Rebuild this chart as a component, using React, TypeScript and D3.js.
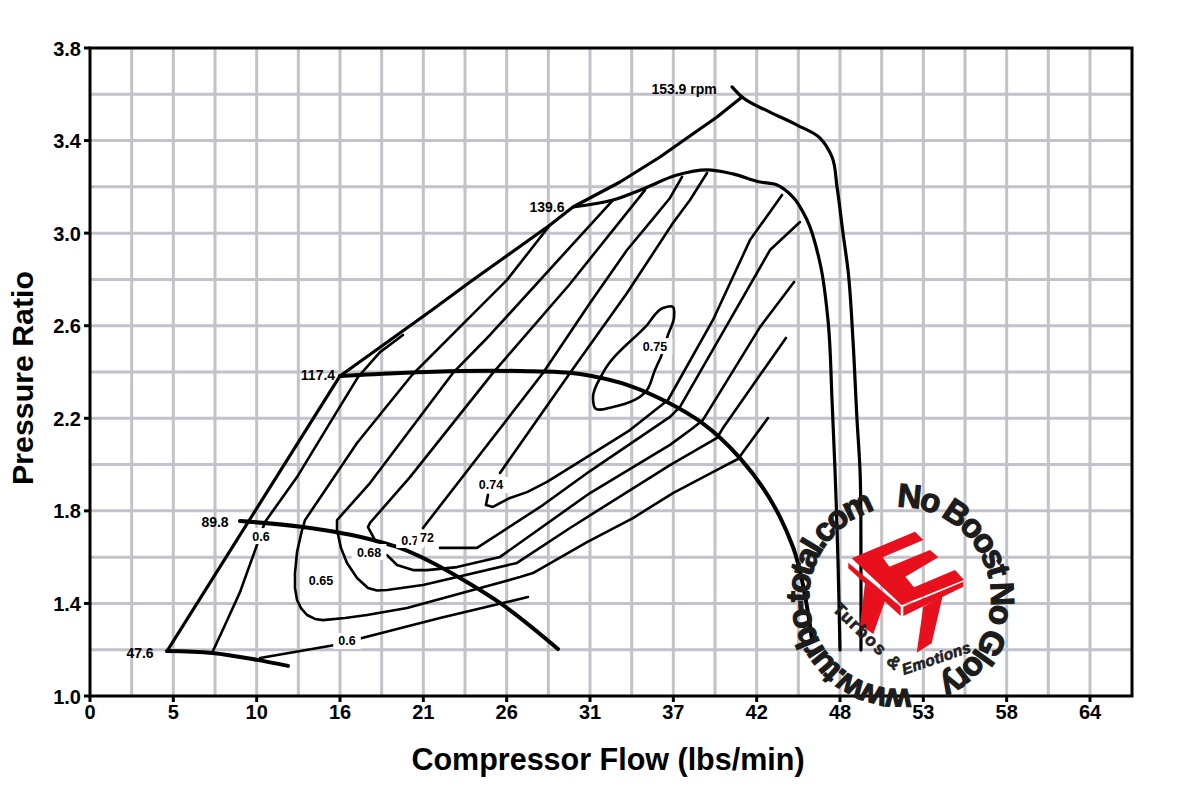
import React from "react";
import * as d3 from "d3";

type Pt = [number, number];

// Axis content
const xTickLabels = ["0", "5", "10", "16", "21", "26", "31", "37", "42", "48", "53", "58", "64"];
const yTickValues = [1.0, 1.4, 1.8, 2.2, 2.6, 3.0, 3.4, 3.8];
const xTitle = "Compressor Flow (lbs/min)";
const yTitle = "Pressure Ratio";

// Surge and speed lines (flow lbs/min, pressure ratio)
const surgeLine: Pt[] = [[4.93,1.194],[16,2.383],[21.89,2.668],[24.32,2.789],[29.44,3.035],[30.91,3.113],[33.92,3.221],[36.48,3.329],[38.21,3.411],[40.13,3.502],[41.73,3.588]];
const speed153: Pt[] = [[41.09,3.632],[41.73,3.588],[43.52,3.523],[45.25,3.467],[46.72,3.411],[47.49,3.329],[47.81,3.199],[48.19,3.001],[48.51,2.841],[48.83,2.538],[49.09,2.193],[49.28,1.977],[49.34,1.588],[49.34,1.199]];
const speed139: Pt[] = [[30.91,3.113],[33.47,3.143],[35.39,3.191],[37.57,3.251],[39.49,3.273],[41.15,3.256],[42.88,3.221],[43.97,3.208],[44.99,3.156],[45.89,3.057],[46.72,2.871],[47.23,2.625],[47.49,2.279],[47.68,1.977],[47.87,1.588],[48.0,1.199]];
const speed117: Pt[] = [[16,2.383],[19.84,2.396],[23.68,2.404],[27.52,2.404],[31.36,2.391],[34.69,2.337],[36.93,2.27],[39.17,2.18],[41.6,2.028],[44.16,1.773],[44.99,1.644],[46.21,1.242]];
const speed89: Pt[] = [[9.6,1.756],[13.63,1.73],[18.11,1.674],[19.65,1.644],[21.95,1.575],[23.68,1.51],[26.24,1.402],[29.95,1.203]];
const speed47: Pt[] = [[4.93,1.194],[7.81,1.186],[10.69,1.156],[12.67,1.13]];

// Efficiency contours
const eff60Left: Pt[] = [[7.81,1.186],[8.64,1.307],[9.6,1.449],[10.62,1.64],[11.2,1.752],[13.25,1.946],[15.36,2.18],[17.15,2.378],[18.56,2.486],[20.03,2.56]];
const eff60Bottom: Pt[] = [[10.88,1.164],[15.68,1.22],[17.41,1.251],[22.4,1.337],[26.69,1.406],[28.03,1.428]];
const eff65: Pt[] = [[43.39,2.201],[41.47,2.024],[40.13,1.977],[37.31,1.877],[34.75,1.769],[31.81,1.665],[28.35,1.531],[27.52,1.514],[24.51,1.458],[20.29,1.38],[17.73,1.35],[16.32,1.337],[14.91,1.328],[14.4,1.333],[13.89,1.35],[13.5,1.38],[13.25,1.415],[13.12,1.467],[13.12,1.531],[13.25,1.622],[13.57,1.717],[13.76,1.76],[17.09,2.093],[20.61,2.387],[24.32,2.638],[26.69,2.798],[29.44,3.035]];
const eff68: Pt[] = [[44.54,2.547],[40.51,2.158],[40.13,2.115],[37.12,1.998],[30.72,1.726],[27.33,1.575],[21.31,1.48],[19.01,1.458],[18.37,1.456],[17.79,1.467],[17.09,1.51],[16.45,1.575],[16.06,1.64],[15.81,1.717],[15.81,1.76],[17.92,1.92],[20.48,2.149],[23.23,2.396],[25.6,2.56],[33.47,3.143]];
const eff70Lower: Pt[] = [[45.06,2.789],[42.88,2.594],[39.23,2.193],[38.59,2.158],[37.12,2.085],[32.0,1.877],[26.24,1.601],[23.49,1.557],[21.57,1.544],[20.67,1.544],[19.65,1.566],[19.01,1.609]];
const eff70Upper: Pt[] = [[18.24,1.674],[17.79,1.73],[17.92,1.748],[20.48,1.946],[25.79,2.396],[30.66,2.776],[35.52,3.186]];
const eff72Left: Pt[] = [[21.31,1.726],[28.99,2.396],[32.0,2.698],[34.37,2.927],[35.97,3.057],[37.12,3.152],[37.89,3.243]];
const eff72Right: Pt[] = [[22.4,1.64],[24.77,1.64],[28.99,1.825],[32.0,1.972],[37.12,2.206],[37.76,2.249],[40.96,2.625],[43.52,2.927],[45.44,3.048]];
const eff74Lower: Pt[] = [[25.47,1.869],[25.34,1.825],[25.79,1.817],[26.88,1.856],[27.97,1.881],[29.25,1.925],[32.0,2.041],[34.56,2.149],[36.99,2.279],[39.87,2.625],[42.24,2.97],[44.29,3.165]];
const eff74Upper: Pt[] = [[26.24,1.964],[30.72,2.396],[34.37,2.741],[37.31,3.044],[38.4,3.143],[39.49,3.26]];
const eff75: Pt[] = [[36.54,2.465],[36.99,2.56],[37.38,2.638],[37.31,2.681],[36.67,2.677],[35.65,2.603],[32.83,2.396],[32.19,2.288],[32.32,2.244],[33.47,2.249],[35.65,2.322],[36.16,2.409],[36.54,2.465]];

const thickLines = [speed117, speed89, speed47];
const mediumLines = [speed153, speed139];
const thinLines = [eff60Left, eff60Bottom, eff65, eff68, eff70Lower, eff70Upper, eff72Left, eff72Right, eff74Lower, eff74Upper];

// Labels
const effLabels: [string, number, number][] = [["0.6",10.94,1.691],["0.6",16.45,1.238],["0.65",14.78,1.501],["0.68",17.86,1.622],["0.7",20.48,1.674],["72",21.57,1.683],["0.74",25.66,1.912],["0.75",36.16,2.512]];
const speedLabels: [string, number, number][] = [["47.6",3.2,1.186],["89.8",8.0,1.752],["117.4",14.59,2.387],["139.6",29.25,3.113],["153.9 rpm",38.02,3.623]];

const W = 1200, H = 800;
const margin = { left: 90, right: 1132, top: 48, bottom: 696 };
const x = d3.scaleLinear().domain([0, 66.688]).range([margin.left, margin.right]);
const y = d3.scaleLinear().domain([1, 3.8]).range([margin.bottom, margin.top]);
const line = d3.line<Pt>().x(d => x(d[0])).y(d => y(d[1])).curve(d3.curveCatmullRom.alpha(1));
const straight = d3.line<Pt>().x(d => x(d[0])).y(d => y(d[1]));
const xStep = 16 / 3;
const xGrid = d3.range(1, 25).map(i => (i * xStep) / 2);
const yGrid = d3.range(1, 14).map(i => 1 + i * 0.2);
const FONT = "'Liberation Sans', Arial, sans-serif";
const NARROW = "'Liberation Sans Narrow', 'Liberation Sans', sans-serif";

const cx = 900, cy = 598, r = 91;
function arc(a0: number, a1: number) {
  const p = (a: number) => {
    const t = (a * Math.PI) / 180;
    return `${cx + r * Math.sin(t)} ${cy - r * Math.cos(t)}`;
  };
  const big = a1 - a0 > 180 ? 1 : 0;
  return `M ${p(a0)} A ${r} ${r} 0 ${big} 1 ${p(a1)}`;
}

export default function App() {
  return (
    <svg width={W} height={H} viewBox={`0 0 ${W} ${H}`} style={{ position: "absolute", left: 0, top: 0, background: "#fff" }}>
      <defs>
        <path id="wmA" d={arc(173, 345)} />
        <path id="wmB" d={arc(-2, 156)} />
      </defs>
      <g stroke="#c2c2ca" strokeWidth={3}>
        {xGrid.map((v, i) => <line key={i} x1={x(v)} x2={x(v)} y1={margin.top} y2={margin.bottom} />)}
        {yGrid.map((v, i) => <line key={i} x1={margin.left} x2={margin.right} y1={y(v)} y2={y(v)} />)}
      </g>
      <g fill="none" stroke="#000" strokeLinejoin="round" strokeLinecap="round">
        {thinLines.map((d, i) => <path key={i} d={straight(d)!} strokeWidth={2.6} />)}
        <path d={line(eff75)!} strokeWidth={2.6} />
        <path d={straight(surgeLine)!} strokeWidth={3.2} />
        {mediumLines.map((d, i) => <path key={i} d={line(d)!} strokeWidth={3.2} />)}
        {thickLines.map((d, i) => <path key={i} d={line(d)!} strokeWidth={4} />)}
      </g>
      <g fontFamily={FONT} fontWeight="bold" fontSize={12.5} textAnchor="middle">
        {effLabels.map(([t, a, b], i) => (
          <g key={i}>
            <rect x={x(a) - (t.length * 3.6 + 3)} y={y(b) - 8} width={t.length * 7.2 + 6} height={16} fill="#fff" />
            <text x={x(a)} y={y(b) + 4.5}>{t}</text>
          </g>
        ))}
      </g>
      <g fontFamily={FONT} fontWeight="bold" fontSize={14} textAnchor="middle">
        {speedLabels.map(([t, a, b], i) => <text key={i} x={x(a)} y={y(b) + 5}>{t}</text>)}
      </g>
      <path d={`M ${margin.left} ${margin.top} H ${margin.right} V ${margin.bottom} H ${margin.left} Z`} fill="none" stroke="#000" strokeWidth={3} />
      <g stroke="#000" strokeWidth={3}>
        {xTickLabels.map((_, i) => <line key={i} x1={x(i * xStep)} x2={x(i * xStep)} y1={margin.bottom} y2={margin.bottom + 6} />)}
        {yTickValues.map((v, i) => <line key={i} x1={margin.left - 6} x2={margin.left} y1={y(v)} y2={y(v)} />)}
      </g>
      <g fontFamily={FONT} fontWeight="bold" fontSize={20} fill="#000">
        {xTickLabels.map((t, i) => <text key={i} x={x(i * xStep)} y={718.5} textAnchor="middle">{t}</text>)}
        {yTickValues.map((v, i) => <text key={i} x={81} y={y(v) + 7.5} textAnchor="end">{v.toFixed(1)}</text>)}
      </g>
      <text x={608} y={770} textAnchor="middle" fontFamily={FONT} fontWeight="bold" fontSize={30.5}>{xTitle}</text>
      <text transform="translate(33,378) rotate(-90)" textAnchor="middle" fontFamily={FONT} fontWeight="bold" fontSize={30.3}>{yTitle}</text>

      {/* Watermark logo */}
      <g transform="translate(760,470) scale(0.33333)">
        <polygon fill="#e8101c" points="315,340 375,392 340,492 300,465" />
        <polygon fill="#e8101c" points="490,410 548,378 515,520 470,548" />
        <polygon fill="#e8101c" points="275,265 465,185 490,210 368,262 388,290 510,240 535,262 436,320 462,352 585,300 612,330 425,405" />
        <polygon fill="#e8101c" points="265,278 422,410 422,438 265,295" />
        <polygon fill="#e8101c" points="430,410 610,335 610,350 430,438" />
        <g fontFamily={FONT} fontWeight="bold" fill="#222" stroke="#222" strokeWidth={2}>
          <text fontSize={52} transform="translate(215,420) rotate(44)" textLength={262} lengthAdjust="spacing">Turbos &amp;</text>
          <text fontSize={46} fontStyle="italic" transform="translate(432,615) rotate(-19)" textLength={215} lengthAdjust="spacing">Emotions</text>
        </g>
      </g>
      <g fontFamily={NARROW} fontWeight="bold" fontSize={33} fill="#1c1c1c" stroke="#1c1c1c" strokeWidth={1.2}>
        <text><textPath href="#wmA" textLength={272} lengthAdjust="spacing">www.turbo-total.com</textPath></text>
        <text><textPath href="#wmB" textLength={250} lengthAdjust="spacing">No Boost No Glory</textPath></text>
      </g>
    </svg>
  );
}
